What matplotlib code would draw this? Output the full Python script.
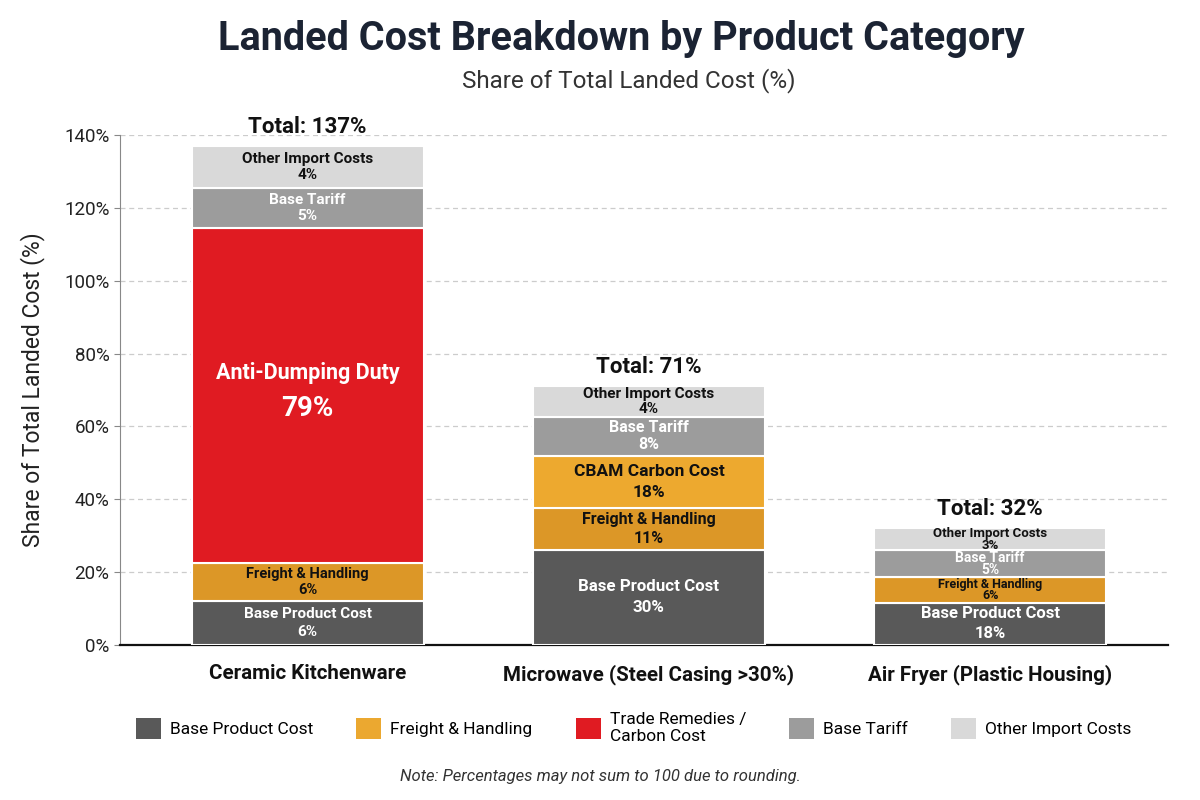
import matplotlib.pyplot as plt
from matplotlib.patches import Patch
import numpy as np

plt.rcParams['font.family'] = ['Roboto', 'DejaVu Sans']

categories = ["Ceramic Kitchenware", "Microwave (Steel Casing >30%)", "Air Fryer (Plastic Housing)"]

# segment heights as drawn (bottom to top)
base_h = [12, 26, 11.5]
freight_h = [10.5, 11.5, 7]
remedy_h = [92, 14.5, 0]
tariff_h = [11, 10.5, 7.5]
other_h = [11.5, 8.5, 6]

# printed labels
base_lbl = [6, 30, 18]
freight_lbl = [6, 11, 6]
remedy_lbl = [79, 18, 0]
remedy_names = ["Anti-Dumping Duty", "CBAM Carbon Cost", ""]
tariff_lbl = [5, 8, 5]
other_lbl = [4, 4, 3]
totals = [137, 71, 32]

legend_names = ["Base Product Cost", "Freight & Handling", "Trade Remedies /\nCarbon Cost",
                "Base Tariff", "Other Import Costs"]

c_base = '#595959'
c_freight = '#DC9727'
c_freight_leg = '#EBA830'
c_red = '#E01B22'
c_cbam = '#EDA92F'
c_tariff = '#9C9C9C'
c_other = '#D9D9D9'

fig = plt.figure(figsize=(12, 8), dpi=100)
ax = fig.add_axes([0.1, 0.194, 0.873, 0.637])
px = 140 / (0.637 * 800)  # data units per pixel

x = np.arange(len(categories))
w = 0.68
bottom = np.zeros(3)

# label font sizes: rows = segment, cols = bar
font_sizes = {
    "Base Product Cost": [11, 12.2, 12],
    "Freight & Handling": [10.5, 11.5, 9],
    "Base Tariff": [11, 11.5, 10],
    "Other Import Costs": [11, 11, 9.5],
    "CBAM Carbon Cost": [12.5, 12.5, 12.5],
}
# half distance between the name and value lines, in pixels
gaps_px = {
    "Base Product Cost": [9, 10.5, 10],
    "Freight & Handling": [8, 9.5, 5.5],
    "Base Tariff": [8, 8.5, 6],
    "Other Import Costs": [8, 7.5, 6],
    "CBAM Carbon Cost": [10.5, 10.5, 10.5],
}

segs = [
    (base_h, base_lbl, ["Base Product Cost"] * 3, [c_base] * 3, 'white'),
    (freight_h, freight_lbl, ["Freight & Handling"] * 3, [c_freight] * 3, '#111111'),
    (remedy_h, remedy_lbl, remedy_names, [c_red, c_cbam, c_red], None),
    (tariff_h, tariff_lbl, ["Base Tariff"] * 3, [c_tariff] * 3, 'white'),
    (other_h, other_lbl, ["Other Import Costs"] * 3, [c_other] * 3, '#111111'),
]

for heights, lbls, names, cols, tcol in segs:
    h = np.array(heights, dtype=float)
    ax.bar(x, h, w, bottom=bottom, color=cols, edgecolor='white', linewidth=1.5, zorder=3)
    for i in range(3):
        if h[i] <= 0:
            continue
        mid = bottom[i] + h[i] / 2
        tc = tcol
        if tc is None:
            tc = 'white' if cols[i] == c_red else '#111111'
        if h[i] > 50:
            ax.text(x[i], mid + 6.2, names[i], ha='center', va='center', color=tc,
                    fontsize=15.5, fontweight='bold', zorder=4)
            ax.text(x[i], mid - 3.6, f"{lbls[i]}%", ha='center', va='center', color=tc,
                    fontsize=20, fontweight='bold', zorder=4)
        else:
            fs = font_sizes[names[i]][i]
            gap = gaps_px[names[i]][i] * px
            ax.text(x[i], mid + gap, names[i], ha='center', va='center', color=tc,
                    fontsize=fs, fontweight='bold', zorder=4)
            ax.text(x[i], mid - gap, f"{lbls[i]}%", ha='center', va='center', color=tc,
                    fontsize=fs, fontweight='bold', zorder=4)
    bottom += h

for i in range(3):
    ax.text(x[i], bottom[i] + 2.3, f"Total: {totals[i]}%", ha='center', va='bottom',
            fontsize=16, fontweight='bold', color='#111111', zorder=4)

ax.set_xlim(-0.55, 2.52)
ax.set_ylim(0, 140)
ax.set_yticks(np.arange(0, 141, 20))
ax.set_yticklabels([f"{v}%" for v in range(0, 141, 20)], fontsize=13.5, color='#222222')
ax.set_xticks(x)
ax.set_xticklabels(categories, fontsize=14.8, fontweight='bold', color='#111111')
ax.tick_params(axis='x', length=0, pad=14)
ax.tick_params(axis='y', length=4, color='#888888')
ax.grid(axis='y', linestyle=(0, (4, 3)), color='#CCCCCC', linewidth=0.9, zorder=0)
ax.set_axisbelow(True)
for s in ['top', 'right']:
    ax.spines[s].set_visible(False)
ax.spines['left'].set_color('#888888')
ax.spines['bottom'].set_color('#111111')
ax.spines['bottom'].set_linewidth(1.6)
ax.set_ylabel("Share of Total Landed Cost (%)", fontsize=16.5, color='#222222', labelpad=14)

fig.text(0.518, 0.951, "Landed Cost Breakdown by Product Category", ha='center', va='center',
         fontsize=28.5, fontweight='bold', color='#1B2333')
fig.text(0.524, 0.899, "Share of Total Landed Cost (%)", ha='center', va='center',
         fontsize=17.5, color='#333333')

handles = [Patch(facecolor=c) for c in [c_base, c_freight_leg, c_red, c_tariff, c_other]]
fig.legend(handles, legend_names, loc='center', bbox_to_anchor=(0.528, 0.09), ncol=5,
           frameon=False, fontsize=12.5, handlelength=1.45, handleheight=1.45,
           columnspacing=2.5, handletextpad=0.5)

fig.text(0.5, 0.029, "Note: Percentages may not sum to 100 due to rounding.", ha='center',
         va='center', fontsize=12, style='italic', color='#333333')

fig.savefig('out.png', dpi=100)
